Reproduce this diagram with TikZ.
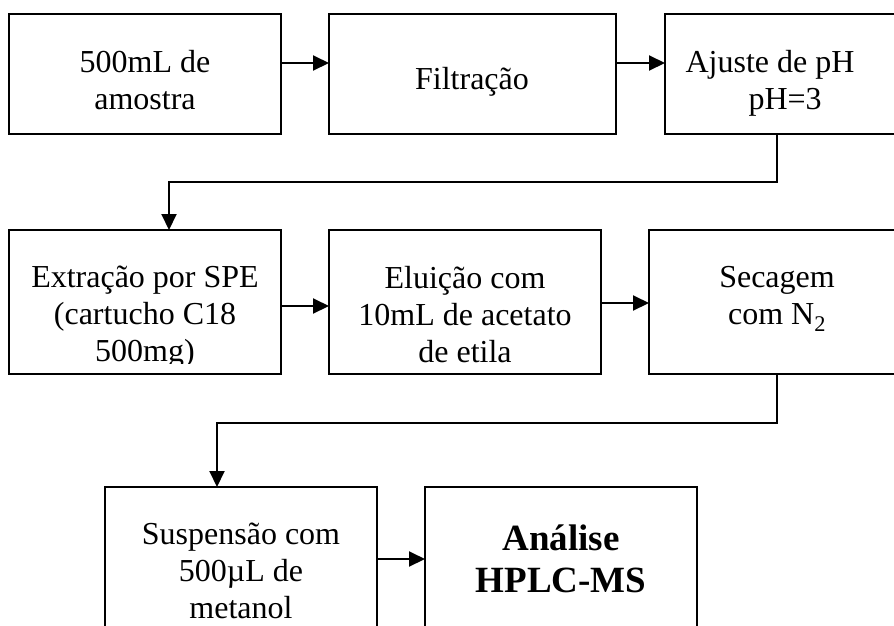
\documentclass[tikz,border=0pt]{standalone}
\usepackage{fontspec}
\setmainfont{Liberation Serif}
\usetikzlibrary{arrows.meta}
\tikzset{
  x=1pt,y=-1pt,
  boxn/.style={draw=black,line width=2pt,fill=white,inner sep=0pt,outer sep=0pt,anchor=north west},
  txt/.style={align=center,inner sep=0pt,font=\fontsize{32}{37}\selectfont},
  btxt/.style={align=center,inner sep=0pt,font=\fontsize{37}{42}\selectfont\bfseries},
  conn/.style={line width=2pt,-{Triangle[length=16pt,width=15pt]}}
}
\newcommand{\mybox}[5]{\node[boxn,minimum width=#4pt,minimum height=#5pt] (#1) at (#2,#3) {};}
\begin{document}
\begin{tikzpicture}
\useasboundingbox (0,0) rectangle (894,625);
\mybox{a}{9}{14}{272}{120}
\mybox{b}{329}{14}{287}{120}
\mybox{c}{665}{14}{240}{120}
\mybox{d}{9}{230}{272}{144}
\mybox{e}{329}{230}{272}{144}
\mybox{f}{649}{230}{256}{144}
\mybox{g}{105}{487}{272}{160}
\mybox{h}{425}{487}{272}{160}
\node[txt] (ta) at (145,80) {500mL de\\amostra};
\node[txt] (tb) at (472,82) {Filtração};
\node[txt,align=left] (tc) at (770,83) {Ajuste de pH\\\hspace*{63pt}pH=3};
\begin{scope}
\clip (d.north west) rectangle ([yshift=11pt]d.south east);
\node[txt] (td) at (145,317) {Extração por SPE\\(cartucho C18\\500mg)};
\end{scope}
\node[txt] (te) at (465,315) {Eluição com\\10mL de acetato\\de etila};
\node[txt] (tf) at (777,299) {Secagem\\com N\textsubscript{2}};
\node[txt] (tg) at (241,571) {Suspensão com\\500µL de\\metanol};
\node[btxt] (th) at (561,559) {Análise\\HPLC-MS};
\coordinate (a1) at (281,63);
\coordinate (b1) at (329,63);
\coordinate (b2) at (616,63);
\coordinate (c1) at (665,63);
\coordinate (c2) at (777,134);
\coordinate (c3) at (777,182);
\coordinate (c4) at (169,182);
\coordinate (d0) at (169,230);
\coordinate (d1) at (281,306);
\coordinate (e1) at (329,306);
\coordinate (e2) at (601,303);
\coordinate (f1) at (649,303);
\coordinate (f2) at (777,374);
\coordinate (f3) at (777,423);
\coordinate (f4) at (217,423);
\coordinate (g0) at (217,487);
\coordinate (g1) at (377,559);
\coordinate (h1) at (425,559);
\draw[conn] (a1) -- (b1);
\draw[conn] (b2) -- (c1);
\draw[conn] (c2) -- (c3) -- (c4) -- (d0);
\draw[conn] (d1) -- (e1);
\draw[conn] (e2) -- (f1);
\draw[conn] (f2) -- (f3) -- (f4) -- (g0);
\draw[conn] (g1) -- (h1);
\end{tikzpicture}
\end{document}
